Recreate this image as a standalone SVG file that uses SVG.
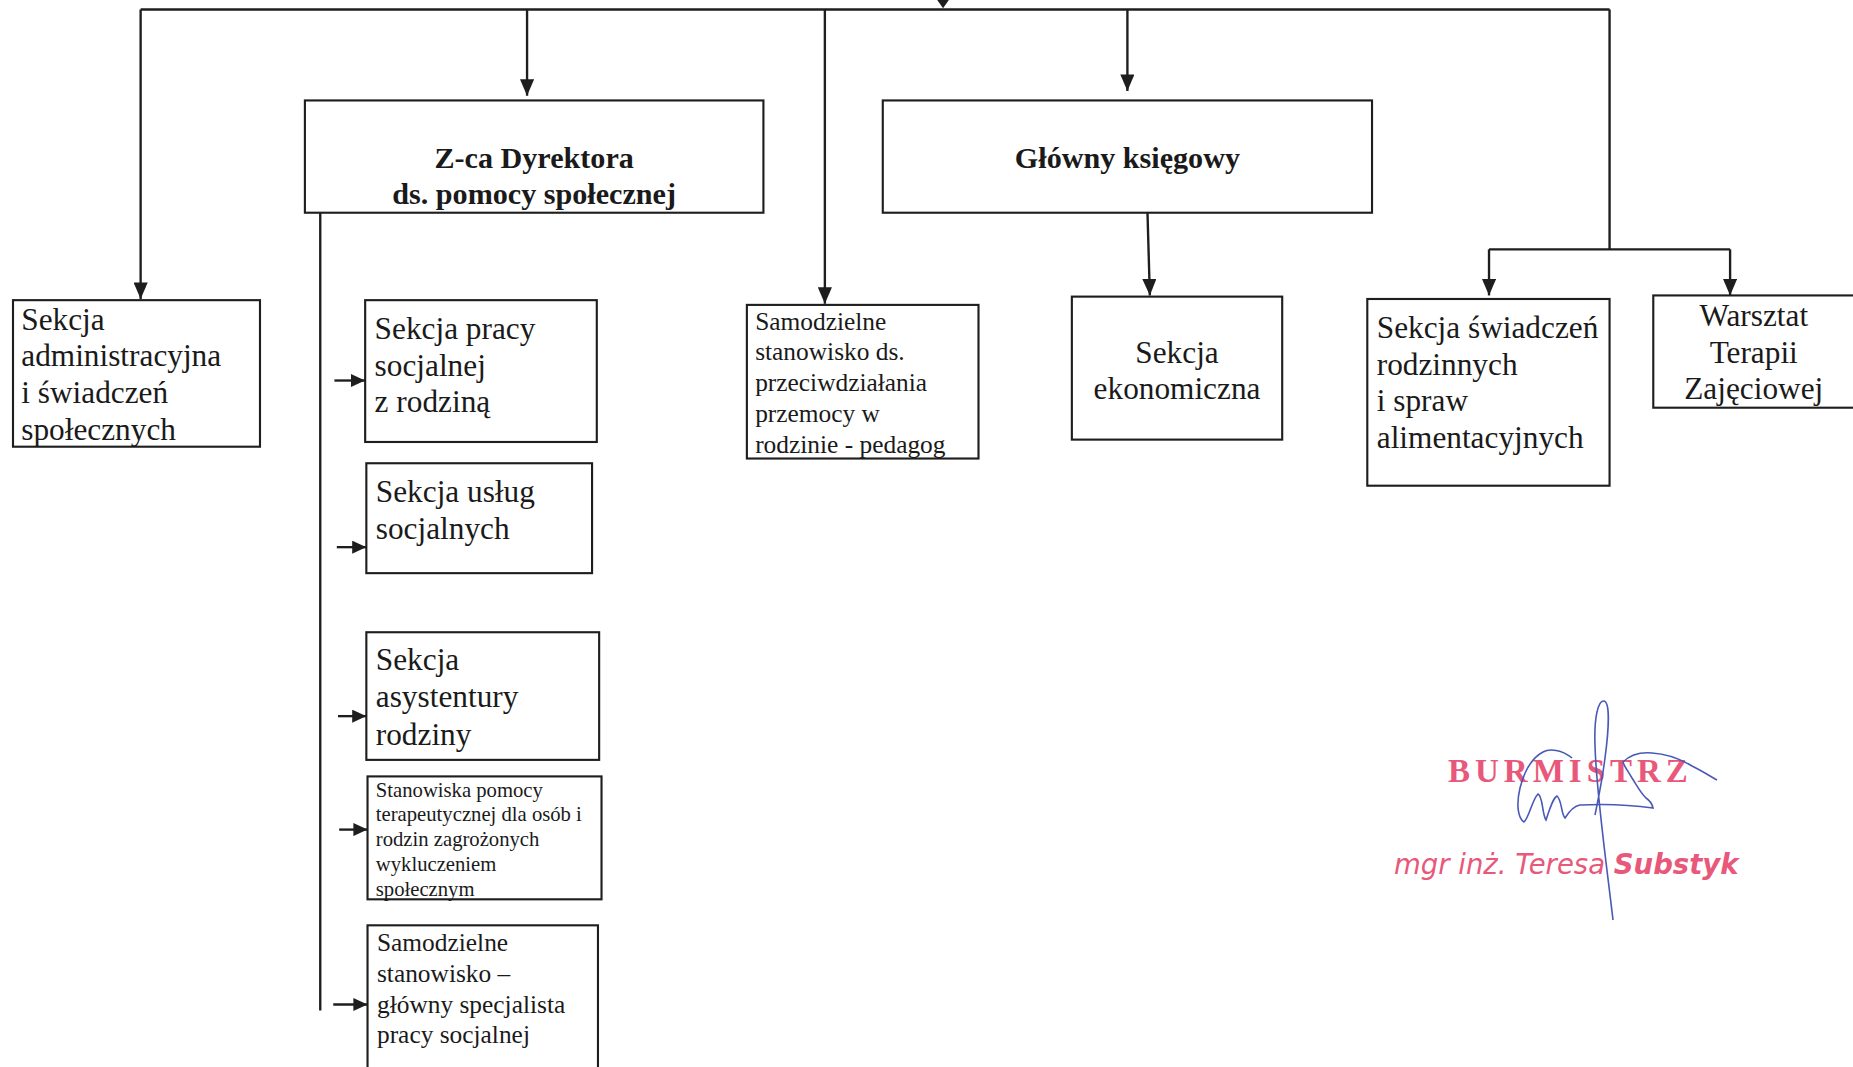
<svg xmlns="http://www.w3.org/2000/svg" width="1853" height="1067" viewBox="0 0 1853 1067">
<style>
.box{fill:#fff;stroke:#1e1e1e;stroke-width:1.8}
.ln{fill:none;stroke:#1e1e1e;stroke-width:2}
.t{font-family:"Liberation Serif","Times New Roman",serif;fill:#1a1a1a;font-size:26.5px}
.tb{font-family:"Liberation Serif","Times New Roman",serif;fill:#1a1a1a;font-size:25.5px;font-weight:bold;text-anchor:middle}
.tm{font-size:21.5px}
.ts{font-size:17.5px}
.c{text-anchor:middle}
.stamp{font-family:"Liberation Serif",serif;fill:#e8587a;font-size:33px;font-weight:bold;letter-spacing:5px}
.name{font-family:"DejaVu Sans","Verdana",sans-serif;fill:#e8587a;font-size:27.5px;font-style:italic}
.sig{fill:none;stroke:#4a58b8;stroke-width:1.6}
</style>
<defs>
<marker id="ah" viewBox="0 0 14 12" refX="14" refY="6" markerWidth="14" markerHeight="12" markerUnits="userSpaceOnUse" orient="auto">
<path d="M0,0 L14,6 L0,12 Z" fill="#1e1e1e"/>
</marker>
<marker id="ahs" viewBox="0 0 12 11" refX="12" refY="5.5" markerWidth="12" markerHeight="11" markerUnits="userSpaceOnUse" orient="auto">
<path d="M0,0 L12,5.5 L0,11 Z" fill="#1e1e1e"/>
</marker>
</defs>
<rect width="1853" height="1067" fill="#fff"/>
<g transform="scale(1.18176)">
<g id="connectors">
<path class="ln" d="M119,8 H1362"/>
<path d="M791,-3 L805,-3 L798,7 Z" fill="#1e1e1e"/>
<path class="ln" d="M119,8 V253" marker-end="url(#ah)"/>
<path class="ln" d="M446,8 V81" marker-end="url(#ah)"/>
<path class="ln" d="M698,8 V257" marker-end="url(#ah)"/>
<path class="ln" d="M954,8 V77" marker-end="url(#ah)"/>
<path class="ln" d="M1362,8 V211"/>
<path class="ln" d="M1260,211 H1464"/>
<path class="ln" d="M1260,211 V250" marker-end="url(#ah)"/>
<path class="ln" d="M1464,211 V250" marker-end="url(#ah)"/>
<path class="ln" d="M971,180 L973,250" marker-end="url(#ah)"/>
<path class="ln" d="M271,180 V855"/>
<path class="ln" d="M283,322 H309" marker-end="url(#ahs)"/>
<path class="ln" d="M285,463 H310" marker-end="url(#ahs)"/>
<path class="ln" d="M286,606 H310" marker-end="url(#ahs)"/>
<path class="ln" d="M287,702 H311" marker-end="url(#ahs)"/>
<path class="ln" d="M282,850 H311" marker-end="url(#ahs)"/>
</g>
<g id="zca">
<rect class="box" x="258" y="85" width="388" height="95"/>
<text class="tb" x="452" y="142">Z-ca Dyrektora</text>
<text class="tb" x="452" y="173">ds. pomocy społecznej</text>
</g>
<g id="glowny">
<rect class="box" x="747" y="85" width="414" height="95"/>
<text class="tb" x="954" y="142">Główny księgowy</text>
</g>
<g id="admin">
<rect class="box" x="11" y="254" width="209" height="124"/>
<text class="t" x="18" y="279">Sekcja</text>
<text class="t" x="18" y="310">administracyjna</text>
<text class="t" x="18" y="341">i świadczeń</text>
<text class="t" x="18" y="372">społecznych</text>
</g>
<g id="praca">
<rect class="box" x="309" y="254" width="196" height="120"/>
<text class="t" x="317" y="287">Sekcja pracy</text>
<text class="t" x="317" y="318">socjalnej</text>
<text class="t" x="317" y="349">z rodziną</text>
</g>
<g id="uslugi">
<rect class="box" x="310" y="392" width="191" height="93"/>
<text class="t" x="318" y="425">Sekcja usług</text>
<text class="t" x="318" y="456">socjalnych</text>
</g>
<g id="asyst">
<rect class="box" x="310" y="535" width="197" height="108"/>
<text class="t" x="318" y="567">Sekcja</text>
<text class="t" x="318" y="598">asystentury</text>
<text class="t" x="318" y="630">rodziny</text>
</g>
<g id="terap">
<rect class="box" x="311" y="657" width="198" height="104"/>
<text class="t ts" x="318" y="674">Stanowiska pomocy</text>
<text class="t ts" x="318" y="695">terapeutycznej dla osób i</text>
<text class="t ts" x="318" y="716">rodzin zagrożonych</text>
<text class="t ts" x="318" y="737">wykluczeniem</text>
<text class="t ts" x="318" y="758">społecznym</text>
</g>
<g id="specjalista">
<rect class="box" x="311" y="783" width="195" height="125"/>
<text class="t tm" x="319" y="805">Samodzielne</text>
<text class="t tm" x="319" y="831">stanowisko –</text>
<text class="t tm" x="319" y="857">główny specjalista</text>
<text class="t tm" x="319" y="883">pracy socjalnej</text>
</g>
<g id="pedagog">
<rect class="box" x="632" y="258" width="196" height="130"/>
<text class="t tm" x="639" y="279">Samodzielne</text>
<text class="t tm" x="639" y="305">stanowisko ds.</text>
<text class="t tm" x="639" y="331">przeciwdziałania</text>
<text class="t tm" x="639" y="357">przemocy w</text>
<text class="t tm" x="639" y="383">rodzinie - pedagog</text>
</g>
<g id="ekonom">
<rect class="box" x="907" y="251" width="178" height="121"/>
<text class="t c" x="996" y="307">Sekcja</text>
<text class="t c" x="996" y="338">ekonomiczna</text>
</g>
<g id="rodzinne">
<rect class="box" x="1157" y="253" width="205" height="158"/>
<text class="t" x="1165" y="286">Sekcja świadczeń</text>
<text class="t" x="1165" y="317">rodzinnych</text>
<text class="t" x="1165" y="348">i spraw</text>
<text class="t" x="1165" y="379">alimentacyjnych</text>
</g>
<g id="warsztat">
<rect class="box" x="1399" y="250" width="172" height="95"/>
<text class="t c" x="1484" y="276">Warsztat</text>
<text class="t c" x="1484" y="307">Terapii</text>
<text class="t c" x="1484" y="338">Zajęciowej</text>
</g>
</g>
<g id="signature">
<text class="stamp" x="1448" y="782">BURMISTRZ</text>
<text class="name" x="1394" y="874">mgr inż. Teresa <tspan font-weight="bold">Substyk</tspan></text>
<path class="sig" d="M1613,920 C1606,860 1596,790 1595,745 C1594,718 1598,700 1604,701 C1610,702 1609,728 1605,758 C1602,782 1598,800 1595,815"/>
<path class="sig" d="M1572,758 C1562,750 1550,748 1543,752 C1532,758 1524,772 1520,788 C1516,805 1518,818 1524,822 C1529,818 1532,800 1538,794 C1543,796 1542,814 1546,820 C1550,808 1553,798 1557,796 C1562,800 1561,814 1565,818 C1570,810 1574,806 1580,805 C1600,804 1625,804 1653,808 C1652,803 1649,800 1646,798 C1640,792 1636,784 1632,778 C1628,771 1624,766 1623,762 C1630,755 1640,752 1652,753 C1668,754 1682,760 1692,766 C1702,771 1710,776 1717,780"/>
</g>
</svg>
